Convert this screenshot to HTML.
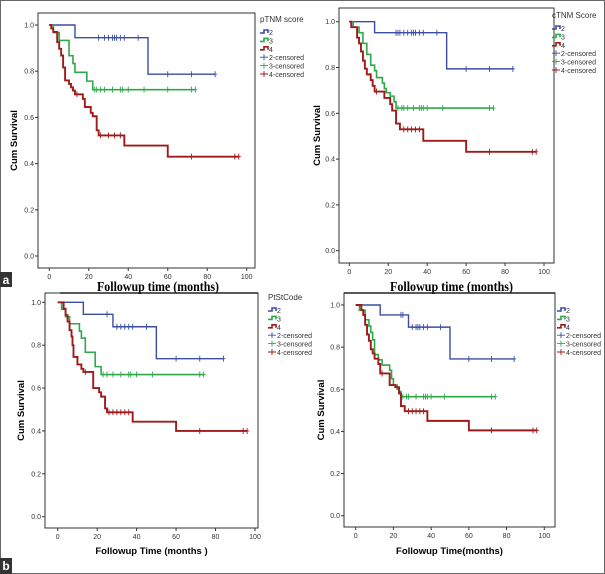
<!DOCTYPE html>
<html><head><meta charset="utf-8"><style>
body{margin:0;background:#fff}
svg{display:block}
text{font-family:"Liberation Sans",sans-serif}
</style></head><body>
<svg id="fig" width="605" height="574" viewBox="0 0 605 574" xmlns="http://www.w3.org/2000/svg">
<rect x="0.5" y="0.5" width="604" height="573" fill="#fff" stroke="#666"/>
<rect x="0" y="272" width="12" height="15" fill="#333"/>
<text x="6" y="284" font-size="12" font-weight="bold" fill="#fff" text-anchor="middle">a</text>
<rect x="0" y="558" width="12" height="16" fill="#333"/>
<text x="6" y="570" font-size="12" font-weight="bold" fill="#fff" text-anchor="middle">b</text>
<text x="97" y="291" font-size="13.5" font-weight="bold" textLength="122" lengthAdjust="spacingAndGlyphs" style="font-family:'Liberation Serif',serif">Followup time (months)</text>
<text x="390" y="291" font-size="13.5" font-weight="bold" textLength="123" lengthAdjust="spacingAndGlyphs" style="font-family:'Liberation Serif',serif">Followup time (months)</text>
</svg>
<script>
// ---- data ----
const xTicks = [0, 20, 40, 60, 80, 100];
const yTicks = [0.0, 0.2, 0.4, 0.6, 0.8, 1.0];
const groupNames = ["2", "3", "4"];
const legendTitles = ["pTNM score", "cTNM Score", "PtStCode", ""];

// panel A (pTNM)
const aBlueT = [0, 13, 50, 84];
const aBlueS = [1, 0.945, 0.787, 0.787];
const aBlueC = [25, 28, 30, 32, 33, 34, 36, 38, 45, 60, 72, 84];
const aGreenT = [0, 2, 5, 10, 12, 13, 19, 22, 74];
const aGreenS = [1, 0.967, 0.933, 0.867, 0.833, 0.795, 0.757, 0.72, 0.72];
const aGreenC = [23, 24, 26, 28, 32, 36, 37, 40, 48, 60, 72, 74];
const aRedT = [0, 1, 2, 4, 5, 6, 7, 8, 10, 11, 12, 13, 17, 18, 21, 22, 24, 25, 38, 60, 96];
const aRedS = [1, 0.985, 0.97, 0.926, 0.897, 0.868, 0.816, 0.76, 0.745, 0.73, 0.716, 0.70, 0.68, 0.645, 0.62, 0.605, 0.544, 0.522, 0.478, 0.43, 0.43];
const aRedC = [14, 26, 30, 33, 36, 72, 94, 96];

// panel B (cTNM)
const bBlueT = [0, 13, 50, 84];
const bBlueS = [1, 0.952, 0.794, 0.794];
const bBlueC = [24, 25, 26, 28, 30, 32, 33, 34, 36, 38, 45, 60, 72, 84];
const bGreenT = [0, 2, 5, 7, 9, 11, 13, 14, 17, 18, 19, 21, 23, 24, 74];
const bGreenS = [1, 0.976, 0.952, 0.905, 0.857, 0.81, 0.786, 0.756, 0.732, 0.708, 0.69, 0.675, 0.65, 0.623, 0.623];
const bGreenC = [25, 27, 28, 30, 33, 36, 37, 38, 40, 48, 72, 74];
const bRedT = [0, 1, 4, 5, 6, 7, 8, 9, 11, 12, 13, 18, 21, 22, 24, 26, 38, 60, 96];
const bRedS = [1, 0.976, 0.93, 0.905, 0.87, 0.83, 0.795, 0.77, 0.745, 0.72, 0.695, 0.667, 0.64, 0.612, 0.555, 0.53, 0.48, 0.432, 0.432];
const bRedC = [14, 28, 30, 32, 34, 36, 72, 94, 96];

// panel C (PtStCode)
const cBlueT = [0, 13, 28, 50, 84];
const cBlueS = [1, 0.944, 0.886, 0.737, 0.737];
const cBlueC = [25, 30, 32, 34, 36, 38, 45, 60, 72, 84];
const cGreenT = [0, 2, 4, 6, 11, 12, 14, 19, 22, 74];
const cGreenS = [1, 0.967, 0.933, 0.90, 0.866, 0.833, 0.767, 0.70, 0.663, 0.663];
const cGreenC = [23, 25, 28, 32, 36, 37, 40, 48, 72, 74];
const cRedT = [0, 3, 4, 5, 6, 7, 7.5, 8, 10, 12, 13, 18, 21, 22, 24, 25, 38, 60, 96];
const cRedS = [1, 0.97, 0.94, 0.91, 0.87, 0.84, 0.80, 0.745, 0.71, 0.69, 0.675, 0.60, 0.58, 0.56, 0.505, 0.487, 0.443, 0.40, 0.40];
const cRedC = [14, 26, 28, 30, 32, 34, 36, 72, 94, 96];

// panel D
const dBlueT = [0, 13, 28, 50, 84];
const dBlueS = [1, 0.953, 0.895, 0.744, 0.744];
const dBlueC = [24, 25, 30, 32, 33, 34, 36, 38, 45, 60, 72, 84];
const dGreenT = [0, 2, 5, 7, 8, 9, 10, 12, 14, 18, 19, 20, 22, 23, 24, 74];
const dGreenS = [1, 0.975, 0.93, 0.90, 0.87, 0.835, 0.765, 0.74, 0.715, 0.69, 0.65, 0.62, 0.60, 0.59, 0.565, 0.565];
const dGreenC = [25, 27, 28, 32, 36, 37, 38, 40, 47, 72, 74];
const dRedT = [0, 3, 4, 5, 6, 7, 8, 9, 10, 12, 13, 18, 21, 23, 24, 26, 38, 60, 96];
const dRedS = [1, 0.976, 0.953, 0.906, 0.86, 0.83, 0.79, 0.77, 0.745, 0.72, 0.675, 0.62, 0.61, 0.58, 0.52, 0.496, 0.45, 0.405, 0.405];
const dRedC = [14, 28, 30, 32, 34, 36, 72, 94, 96];

const panelSeries = [
  [[aBlueT, aBlueS, aBlueC], [aGreenT, aGreenS, aGreenC], [aRedT, aRedS, aRedC]],
  [[bBlueT, bBlueS, bBlueC], [bGreenT, bGreenS, bGreenC], [bRedT, bRedS, bRedC]],
  [[cBlueT, cBlueS, cBlueC], [cGreenT, cGreenS, cGreenC], [cRedT, cRedS, cRedC]],
  [[dBlueT, dBlueS, dBlueC], [dGreenT, dGreenS, dGreenC], [dRedT, dRedS, dRedC]]
];
const bottomXLabels = ["", "", "Followup Time (months )", "Followup Time(months)"];

// ---- geometry ----
const colors = ["#3b4ea3", "#2fa84a", "#9e1b1b"];
const widths = [1.4, 1.6, 1.9];
const panels = [
  {l:38, t:13, r:255, b:268, x0:49.3, x100:246.7, y0:256, y1:25, lx:260, ly:22, ylab:17, tw:1},
  {l:339, t:8, r:554, b:263, x0:349.3, x100:544, y0:250.7, y1:21.7, lx:552, ly:18, ylab:320, tw:1},
  {l:45, t:293, r:258, b:528, x0:57.7, x100:255, y0:516.7, y1:302.3, lx:268, ly:300, ylab:24, tw:1.5, topFrom:60},
  {l:344, t:293, r:555, b:527, x0:355.7, x100:544.3, y0:515.7, y1:305, lx:557, ly:300, ylab:324, tw:1.5}
];
const NS = "http://www.w3.org/2000/svg";
const svg = document.getElementById("fig");
function mk(tag, attrs, parent, txt){
  const e = document.createElementNS(NS, tag);
  for (const k in attrs) e.setAttribute(k, attrs[k]);
  if (txt !== undefined) e.textContent = txt;
  (parent || svg).appendChild(e);
  return e;
}
panels.forEach((p, pi) => {
  const g = mk("g", {});
  
  
  const X = t => p.x0 + (p.x100 - p.x0) * t / 100;
  const Y = s => p.y0 + (p.y1 - p.y0) * s;
  const box = mk("rect", {x:p.l, y:p.t, width:p.r - p.l, height:p.b - p.t, fill:"none", stroke:"#333", "stroke-width":1}, g);
  
  
  if (p.tw > 1) {
    const tl = mk("line", {x1:p.topFrom || p.l, x2:p.r, y1:p.t, y2:p.t, stroke:"#222", "stroke-width":p.tw}, g);
    
    
  }
  yTicks.forEach(v => {
    const y = Y(v);
    const tk = mk("line", {x1:p.l - 3, x2:p.l, y1:y, y2:y, stroke:"#333"}, g);
    
    
    const tl = mk("text", {x:p.l - 4, y:y + 2.5, "font-size":7, "text-anchor":"end", fill:"#333"}, g, v.toFixed(1));
    
    
  });
  xTicks.forEach(v => {
    const x = X(v);
    const tk = mk("line", {x1:x, x2:x, y1:p.b, y2:p.b + 3, stroke:"#333"}, g);
    
    
    const tl = mk("text", {x:x, y:p.b + 11, "font-size":7, "text-anchor":"middle", fill:"#333"}, g, String(v));
    
    
  });
  const yc = (p.t + p.b) / 2;
  const yl = mk("text", {x:p.ylab, y:yc, "font-size":9.5, "font-weight":"bold", "text-anchor":"middle", transform:`rotate(-90 ${p.ylab} ${yc})`}, g, "Cum Survival");
  
  
  if (bottomXLabels[pi]) {
    const xl = mk("text", {x:(p.l + p.r) / 2, y:554, "font-size":9.5, "font-weight":"bold", "text-anchor":"middle"}, g, bottomXLabels[pi]);
    
    
  }
  panelSeries[pi].forEach((ser, si) => {
    const [T, S, C] = ser;
    let d = `M${X(T[0])},${Y(S[0])}`;
    for (let i = 1; i < T.length; i++) d += `H${X(T[i])}V${Y(S[i])}`;
    const path = mk("path", {d:d, fill:"none", stroke:colors[si], "stroke-width":widths[si]}, g);
    
    
    C.forEach(c => {
      let s = S[0];
      for (let i = 0; i < T.length; i++) if (T[i] <= c) s = S[i];
      const x = X(c), y = Y(s);
      const m = mk("path", {d:`M${x},${y - 3}V${y + 3}M${x - 2},${y}H${x + 2}`, stroke:colors[si], "stroke-width":0.9}, g);
      
      
    });
  });
  const lg = mk("g", {}, g);
  
  
  if (legendTitles[pi]) {
    const lt = mk("text", {x:p.lx, y:p.ly, "font-size":8, fill:"#333"}, lg, legendTitles[pi]);
    
    
  }
  const rows = groupNames.map((n, i) => ({label:n, col:i, step:true}))
    .concat(groupNames.map((n, i) => ({label:n + "-censored", col:i, step:false})));
  rows.forEach((r, i) => {
    const y = p.ly + 11 + i * 8.4;
    const x = p.lx;
    if (r.step) {
      const ic = mk("path", {d:`M${x},${y}H${x + 4}V${y - 3}H${x + 8}V${y}`, fill:"none", stroke:colors[r.col], "stroke-width":1.6}, lg);
      
      
    } else {
      const ic = mk("path", {d:`M${x},${y - 1}H${x + 8}M${x + 4},${y - 4}V${y + 2}`, stroke:colors[r.col], "stroke-width":0.9}, lg);
      
      
    }
    const t = mk("text", {x:x + 9, y:y + 2, "font-size":7, fill:"#333"}, lg, r.label);
    
    
  });
});
</script>
</body></html>
